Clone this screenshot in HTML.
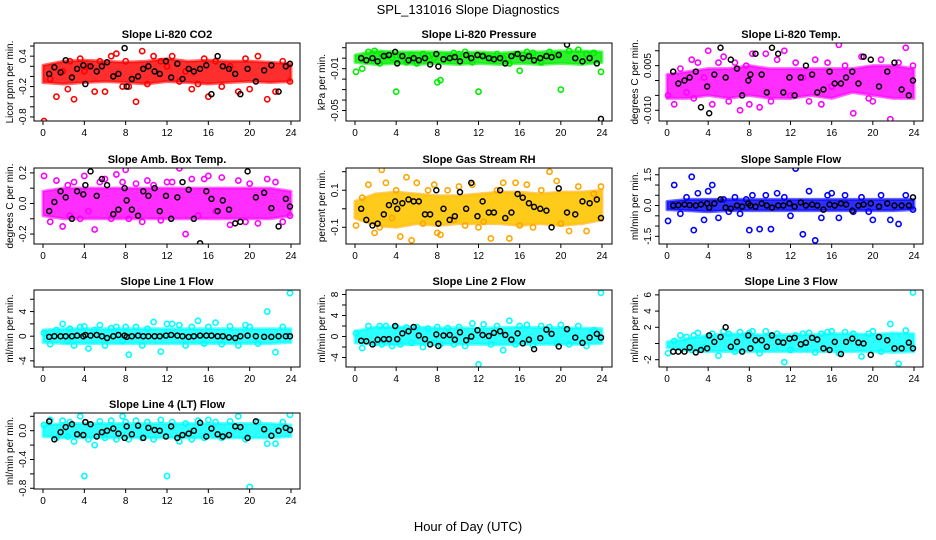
<!DOCTYPE html>
<html><head><meta charset="utf-8">
<style>
html,body{margin:0;padding:0;background:#fff;}
svg{display:block;font-family:"Liberation Sans",sans-serif;}
</style></head>
<body>
<svg id="chart" width="936" height="540" viewBox="0 0 936 540" xmlns="http://www.w3.org/2000/svg">
<rect width="936" height="540" fill="#fff"/>
<text x="468" y="14" text-anchor="middle" font-size="13">SPL_131016  Slope Diagnostics</text>
<text x="468" y="531" text-anchor="middle" font-size="13">Hour of Day (UTC)</text>
</svg>
<script>
// shared hours
var blackHours = [0.6,1.1,1.7,2.2,2.8,3.3,3.9,4.1,4.6,5.2,5.7,6.2,6.8,7.3,7.9,8.1,8.6,9.2,9.7,10.2,10.8,11.3,11.9,12.4,13.0,13.5,14.1,14.6,15.2,15.8,16.3,16.9,17.4,18.0,18.6,19.1,19.8,20.6,21.4,22.1,22.8,23.5,23.9];
var colorHours = [0.1,0.7,1.3,1.9,2.4,2.6,3.0,3.6,4.0,4.4,5.0,5.5,6.0,6.6,7.1,7.7,8.0,8.3,9.0,9.6,10.1,10.7,11.4,12.0,12.5,13.2,13.8,14.4,15.0,15.6,16.0,16.7,17.3,18.1,18.9,19.6,20.0,20.8,21.7,22.5,23.2,23.9];
var bandHours = [0,2,4,6,8,10,12,14,16,18,20,22,24];
var xTicks = [0,4,8,12,16,20,24];

var panelTitles = ["Slope Li-820 CO2","Slope Li-820 Pressure","Slope Li-820 Temp.","Slope Amb. Box Temp.","Slope Gas Stream RH","Slope Sample Flow","Slope Line 1 Flow","Slope Line 2 Flow","Slope Line 3 Flow","Slope Line 4 (LT) Flow"];
var yTitles = ["Licor ppm per min.","kPa per min.","degrees C per min.","degrees C per min.","percent per min.","ml/min per min.","ml/min per min.","ml/min per min.","ml/min per min.","ml/min per min."];
var yDomains = [[-0.88,0.66],[-0.060,0.0145],[-0.0136,0.0126],[-0.265,0.232],[-0.19,0.22],[-1.875,1.83],[-5,7.5],[-5.8,8.85],[-2.9,6.6],[-0.81,0.246]];
var yTicks = [[-0.8,-0.6,-0.4,-0.2,0,0.2,0.4,0.6],[-0.05,-0.04,-0.03,-0.02,-0.01,0,0.01],[-0.01,-0.005,0,0.005,0.01],[-0.2,-0.1,0,0.1,0.2],[-0.1,0,0.1,0.2],[-1.5,-1,-0.5,0,0.5,1,1.5],[-4,-2,0,2,4,6],[-4,-2,0,2,4,6,8],[-2,0,2,4,6],[-0.8,-0.6,-0.4,-0.2,0,0.2]];
var yLabels = [[[-0.8,"-0.8"],[-0.2,"-0.2"],[0.4,"0.4"]],[[-0.05,"-0.05"],[-0.01,"-0.01"]],[[-0.01,"-0.010"],[0.005,"0.005"]],[[-0.2,"-0.2"],[0,"0.0"],[0.2,"0.2"]],[[-0.1,"-0.1"],[0.1,"0.1"]],[[-1.5,"-1.5"],[0,"0.0"],[1.5,"1.5"]],[[-4,"-4"],[0,"0"],[4,"4"]],[[-4,"-4"],[0,"0"],[4,"4"],[8,"8"]],[[-2,"-2"],[2,"2"],[4,"4"],[6,"6"]],[[-0.8,"-0.8"],[-0.4,"-0.4"],[0,"0.0"]]];
var seriesColors = ["#ff0000","#00ee00","#ff00ff","#ff00ff","#ffa500","#0000ff","#00ffff","#00ffff","#00ffff","#00ffff"];

var bandLo = [
[-0.12,-0.15,-0.12,-0.1,-0.12,-0.15,-0.1,-0.12,-0.15,-0.12,-0.1,-0.12,-0.1],
[-0.004,-0.006,-0.005,-0.006,-0.005,-0.006,-0.005,-0.006,-0.005,-0.006,-0.005,-0.006,-0.004],
[-0.006,-0.006,-0.005,-0.006,-0.005,-0.006,-0.006,-0.005,-0.006,-0.004,-0.005,-0.006,-0.006],
[-0.08,-0.1,-0.1,-0.1,-0.1,-0.1,-0.1,-0.1,-0.1,-0.1,-0.1,-0.1,-0.08],
[-0.05,-0.09,-0.1,-0.08,-0.09,-0.08,-0.08,-0.08,-0.09,-0.08,-0.09,-0.08,-0.06],
[-0.2,-0.25,-0.3,-0.25,-0.25,-0.25,-0.25,-0.25,-0.25,-0.25,-0.25,-0.25,-0.2],
[-1,-1.2,-1.2,-1.2,-1.2,-1.2,-1.2,-1.2,-1.2,-1.2,-1.2,-1.2,-1],
[-1.2,-1.5,-1.6,-1.5,-1.5,-1.5,-1.5,-1.6,-1.5,-1.5,-1.5,-1.5,-1.3],
[-0.5,-0.9,-1.0,-1.0,-1.0,-1.0,-1.0,-1.0,-1.0,-1.0,-1.0,-1.1,-1.0],
[-0.08,-0.1,-0.1,-0.1,-0.1,-0.1,-0.1,-0.1,-0.1,-0.1,-0.1,-0.1,-0.08]];
var bandHi = [
[0.22,0.3,0.32,0.3,0.28,0.3,0.35,0.3,0.32,0.3,0.3,0.28,0.25],
[0.003,0.007,0.006,0.006,0.006,0.005,0.006,0.005,0.006,0.006,0.007,0.007,0.006],
[0.002,0.003,0.004,0.004,0.005,0.004,0.004,0.004,0.004,0.004,0.005,0.005,0.004],
[0.08,0.1,0.1,0.1,0.1,0.1,0.1,0.1,0.1,0.1,0.1,0.1,0.08],
[0.04,0.08,0.09,0.08,0.07,0.07,0.08,0.09,0.09,0.08,0.09,0.09,0.1],
[0.2,0.3,0.3,0.3,0.3,0.3,0.3,0.3,0.3,0.3,0.3,0.3,0.3],
[1,1.2,1.2,1.2,1.2,1.2,1.2,1.2,1.2,1.2,1.2,1.2,1.2],
[1.0,1.8,1.8,1.8,1.6,1.7,1.6,1.7,1.8,1.7,1.7,1.6,1.5],
[0.2,0.6,1.0,1.2,1.1,1.1,1.1,1.1,1.2,1.2,1.1,1.3,1.2],
[0.08,0.1,0.1,0.1,0.1,0.1,0.1,0.1,0.1,0.1,0.1,0.1,0.08]];

var colorValues = [
[-0.88,-0.05,-0.4,0.1,-0.25,0.3,-0.45,0.35,0.1,0.2,-0.3,0.3,-0.3,0.4,0.45,-0.2,0.3,-0.2,-0.5,0.5,-0.15,0.4,0.3,0.2,0.4,-0.1,0.1,-0.25,-0.15,0.35,-0.4,0.3,-0.2,0.2,-0.3,0.35,-0.25,0.4,-0.45,-0.3,0.3,-0.1],
[-0.013,-0.01,0.006,0.007,-0.005,0.004,0.002,0.0,-0.032,0.002,-0.004,0.003,-0.005,0.004,0.002,0.0,-0.023,-0.021,0.002,0.005,0.004,0.006,-0.004,-0.032,0.003,0.0,0.004,0.0,-0.005,0.004,-0.012,0.006,0.005,-0.004,0.006,0.003,-0.03,0.007,0.008,0.004,0.005,-0.013],
[-0.005,-0.008,0.004,-0.004,0.007,-0.006,0.006,0.001,0.01,-0.008,0.006,0.008,-0.007,0.006,-0.01,0.005,-0.008,0.009,-0.009,0.009,-0.007,0.007,0.01,-0.005,0.006,0.001,-0.007,0.007,-0.008,0.006,-0.002,0.012,0.005,-0.011,0.008,-0.006,-0.007,0.007,-0.013,0.006,0.011,0.005],
[0.18,-0.12,0.15,-0.15,0.12,-0.08,0.14,-0.1,0.18,-0.05,-0.17,0.14,0.16,-0.1,0.19,0.14,0.22,-0.1,0.13,-0.12,0.15,0.12,-0.11,0.14,0.14,0.23,-0.2,0.16,-0.08,0.16,0.18,-0.05,0.17,-0.14,0.15,-0.12,0.13,-0.13,0.16,0.14,-0.12,-0.08],
[-0.09,0.06,0.13,-0.13,-0.1,0.21,0.14,-0.05,0.1,-0.15,0.17,-0.17,0.14,-0.08,0.1,0.13,-0.13,-0.14,0.1,-0.06,0.12,-0.09,0.13,-0.1,-0.07,-0.16,0.1,0.14,-0.16,0.14,-0.09,0.13,-0.1,0.1,0.2,0.15,-0.08,-0.12,0.12,-0.12,0.08,0.12],
[-0.75,1.0,-0.4,0.4,1.4,-1.2,0.6,-0.7,0.7,1.0,-0.6,0.3,-0.3,0.4,-0.4,0.3,-1.2,0.5,-1.15,0.5,-1.15,0.6,0.4,-0.5,1.8,-1.4,0.7,-1.7,-0.6,0.5,0.6,-0.6,0.5,-0.3,0.4,-0.3,-0.7,0.5,-0.7,-0.9,0.5,-0.2],
[0.5,-1.3,1.0,2.0,-0.8,1.2,-1.5,1.5,1.6,-2.0,1.0,1.8,-1.5,1.3,1.5,-0.8,1.5,-3.0,1.5,-1.5,1.2,2.3,-2.5,2.0,2.0,1.8,-1.5,1.5,2.5,-1.2,1.5,2.2,-1.3,1.6,-1.5,1.8,1.5,-1.2,4.0,-2.6,1.5,7.0],
[0.6,-2.2,2.0,-1.3,2.0,-1.5,2.0,-1.8,1.8,-1.5,1.7,-1.2,1.8,-2.0,1.5,-1.2,1.8,-1.5,1.6,-1.5,1.8,-1.8,2.5,-5.3,2.3,-1.5,2.0,-2.6,3.0,-1.5,2.0,2.2,-1.7,2.0,1.8,-1.3,2.2,-1.5,2.0,-1.8,1.2,8.3],
[-1.2,0.3,1.0,0.8,-0.8,1.0,1.3,-0.5,0.9,1.2,-1.5,1.5,1.2,-1.0,1.4,1.0,1.3,1.5,-1.2,1.5,1.0,1.2,-2.3,-0.8,1.0,1.2,1.3,-1.1,1.2,1.4,1.5,-1.2,1.4,1.2,-1.6,1.2,1.5,-1.0,2.4,-2.5,1.6,6.3],
[0.08,0.15,-0.1,0.14,-0.08,0.12,-0.15,0.2,-0.63,-0.12,-0.2,0.13,-0.1,0.14,-0.12,0.2,0.12,-0.12,0.14,-0.1,0.12,-0.12,0.15,-0.63,0.12,-0.15,0.1,-0.12,0.14,-0.1,0.15,0.12,-0.1,0.13,0.2,-0.12,-0.78,0.12,-0.18,-0.18,0.12,0.22]];

var blackValues = [
[0.05,0.18,0.08,0.32,-0.02,0.15,0.22,-0.15,0.2,0.1,0.2,0.28,0.0,0.05,0.56,-0.2,-0.05,0.0,0.15,0.2,0.1,0.05,0.3,-0.02,0.25,-0.05,0.15,0.1,0.15,0.22,-0.35,0.4,0.2,0.15,0.05,-0.35,0.15,-0.1,0.12,0.22,-0.3,0.2,0.25],
[0.0,-0.002,0.0,-0.003,0.002,0.003,0.006,-0.005,0.002,-0.002,0.0,-0.002,0.0,-0.006,0.004,-0.008,-0.001,0.0,0.001,-0.003,0.003,0.0,0.003,0.002,0.0,-0.001,0.0,-0.005,0.002,0.004,0.0,0.002,-0.002,0.0,0.002,0.001,0.003,0.013,0.0,-0.003,0.0,-0.005,-0.058],
[0.003,-0.001,0.0,0.001,0.003,-0.009,-0.002,-0.011,0.002,0.011,0.001,0.007,0.004,-0.005,0.0,0.002,0.009,0.002,-0.004,0.011,0.009,-0.004,0.001,-0.005,0.001,0.005,0.002,-0.004,-0.003,0.003,-0.001,-0.001,0.001,0.003,-0.001,0.008,0.007,-0.002,0.003,0.006,-0.003,-0.005,0.0],
[-0.05,0.01,0.08,0.04,-0.1,0.08,0.06,0.12,0.21,0.05,0.16,0.12,-0.07,-0.04,0.1,0.02,-0.04,-0.08,0.08,0.05,0.1,-0.05,0.05,-0.1,0.04,0.14,0.09,-0.1,-0.26,0.08,0.03,-0.05,0.02,-0.04,-0.13,-0.12,0.21,0.04,0.07,-0.03,-0.15,0.03,-0.02],
[0.0,-0.06,-0.09,-0.08,-0.03,0.02,0.04,0.0,0.03,0.05,0.04,0.04,-0.03,-0.03,0.1,-0.08,0.0,-0.06,-0.04,0.09,0.0,0.14,-0.04,0.04,-0.02,-0.02,0.1,-0.05,-0.02,0.08,0.06,0.03,0.01,0.0,-0.01,-0.1,0.11,-0.02,-0.03,0.04,0.03,0.05,-0.05],
[0.0,0.02,0.05,0.02,0.0,0.05,0.1,-0.1,0.1,0.3,-0.1,-0.15,0.0,-0.05,0.1,0.0,-0.05,0.1,0.0,-0.1,0.0,0.0,0.1,-0.05,0.15,0.0,0.05,0.0,-0.2,0.05,0.0,0.1,0.05,-0.25,0.0,0.05,0.1,-0.05,0.1,0.0,0.0,0.0,0.4],
[-0.1,0,0,0,0,0.1,0,0.2,0.1,0.2,0,-0.3,0,0.2,0.1,-0.1,0,0.1,0,0,0,0,0.1,0.2,0.1,0,-0.1,0,0.1,0.1,0.1,0,0,-0.2,-0.3,0,0.1,0,-0.1,-0.1,0,0,0],
[-0.8,-0.9,-1.5,-0.6,-0.5,-0.5,2.0,-0.5,0.6,1.0,1.8,0.2,-0.5,-1.5,0.4,-1.8,0.2,0.3,-0.6,0.8,-0.7,0.0,1.2,0.3,0.1,0.7,1.0,0.3,-0.6,0.6,-1.3,-0.6,-2.4,-0.3,1.3,0.5,-1.9,1.4,-0.2,-1.2,-0.2,0.5,-0.2],
[-1.0,-1.0,-1.0,-0.5,-1.1,-0.8,-0.6,1.0,0.2,0.8,2.0,-0.4,0.2,-1.0,1.0,-0.6,0.4,0.4,-0.4,1.0,0.2,0.1,0.6,0.7,-0.1,0.1,0.7,0.5,-0.6,-0.8,0.2,-1.3,0.2,0.6,0.1,0.0,-1.4,0.8,0.4,-0.6,-0.6,0.1,-0.6],
[0.13,-0.12,-0.02,0.05,0.09,-0.05,-0.06,0.12,0.09,-0.08,-0.02,0.0,0.03,-0.04,-0.1,0.06,-0.05,0.07,-0.1,0.04,0.01,0.0,-0.08,0.06,-0.1,-0.06,-0.04,0.0,0.11,-0.08,0.03,-0.05,-0.08,-0.06,0.06,0.05,-0.1,0.13,0.02,-0.07,0.0,0.04,0.01]];

var NS = "http://www.w3.org/2000/svg";
var svg = document.getElementById("chart");
var cols = [{l:34,r:300,x0:43,x24:291},{l:346,r:612,x0:355,x24:602},{l:659,r:923,x0:667,x24:914}];
var rows = [{t:43,b:121},{t:168,b:244},{t:290,b:367},{t:413,b:489}];
function mk(tag, attrs, parent){var e=document.createElementNS(NS,tag);for(var k in attrs)e.setAttribute(k,attrs[k]);(parent||svg).appendChild(e);return e;}
function slug(s){return s.toLowerCase().replace(/[^a-z0-9]+/g,'-').replace(/^-|-$/g,'');}

for (var p=0;p<10;p++){
  var c=cols[p%3], r=rows[Math.floor(p/3)];
  var d=yDomains[p];
  var xs=(function(c){return function(h){return c.x0+(c.x24-c.x0)*h/24;};})(c);
  var ys=(function(r,d){return function(v){return r.b-(v-d[0])/(d[1]-d[0])*(r.b-r.t);};})(r,d);
  var g=mk("g",{});
  
  
  var t=mk("text",{x:(c.l+c.r)/2,y:r.t-5,"text-anchor":"middle","font-size":"11","font-weight":"bold"},g);
  t.textContent=panelTitles[p];
  
  
  var clip=mk("clipPath",{id:"cp"+p},g);
  mk("rect",{x:c.l,y:r.t,width:c.r-c.l,height:r.b-r.t},clip);
  var plot=mk("g",{"clip-path":"url(#cp"+p+")"},g);
  var pts=[];
  for(var i=0;i<bandHours.length;i++)pts.push(xs(bandHours[i])+","+ys(bandHi[p][i]));
  for(var i=bandHours.length-1;i>=0;i--)pts.push(xs(bandHours[i])+","+ys(bandLo[p][i]));
  var band=mk("polygon",{points:pts.join(" "),fill:seriesColors[p],"fill-opacity":"0.82",stroke:seriesColors[p],"stroke-opacity":"0.6","stroke-width":"3","stroke-linejoin":"round"},plot);
  
  
  if(p==4){
    var band2=mk("polygon",{points:pts.join(" "),fill:"#ffee00","fill-opacity":"0.4",stroke:"none"},plot);
    
    
  }
  for(var i=0;i<colorHours.length;i++){
    var ci=mk("circle",{cx:xs(colorHours[i]),cy:ys(colorValues[p][i]),r:2.6,fill:"none",stroke:seriesColors[p],"stroke-width":"1.6"},plot);
    
    
  }
  for(var i=0;i<blackHours.length;i++){
    var bi=mk("circle",{cx:xs(blackHours[i]),cy:ys(blackValues[p][i]),r:2.5,fill:"none",stroke:"#000","stroke-width":"1.5"},plot);
    
    
  }
  var box=mk("rect",{x:c.l,y:r.t,width:c.r-c.l,height:r.b-r.t,fill:"none",stroke:"#000","stroke-width":"1"},g);
  
  
  for(var i=0;i<xTicks.length;i++){
    var x=xs(xTicks[i]);
    mk("line",{x1:x,x2:x,y1:r.b,y2:r.b+4,stroke:"#000"},g);
    var xl=mk("text",{x:x,y:r.b+15,"text-anchor":"middle","font-size":"10"},g);
    xl.textContent=xTicks[i];
    
    
  }
  for(var i=0;i<yTicks[p].length;i++){
    var y=ys(yTicks[p][i]);
    mk("line",{x1:c.l-4,x2:c.l,y1:y,y2:y,stroke:"#000"},g);
  }
  for(var i=0;i<yLabels[p].length;i++){
    var y=ys(yLabels[p][i][0]);
    var yl=mk("text",{x:0,y:0,"text-anchor":"middle","font-size":"10",transform:"translate("+(c.l-8)+","+y+") rotate(-90)"},g);
    yl.textContent=yLabels[p][i][1];
    
    
  }
  var yt=mk("text",{x:0,y:0,"text-anchor":"middle","font-size":"10",transform:"translate("+(c.l-21)+","+((r.t+r.b)/2)+") rotate(-90)"},g);
  yt.textContent=yTitles[p];
  
  
}
</script>
</body></html>
